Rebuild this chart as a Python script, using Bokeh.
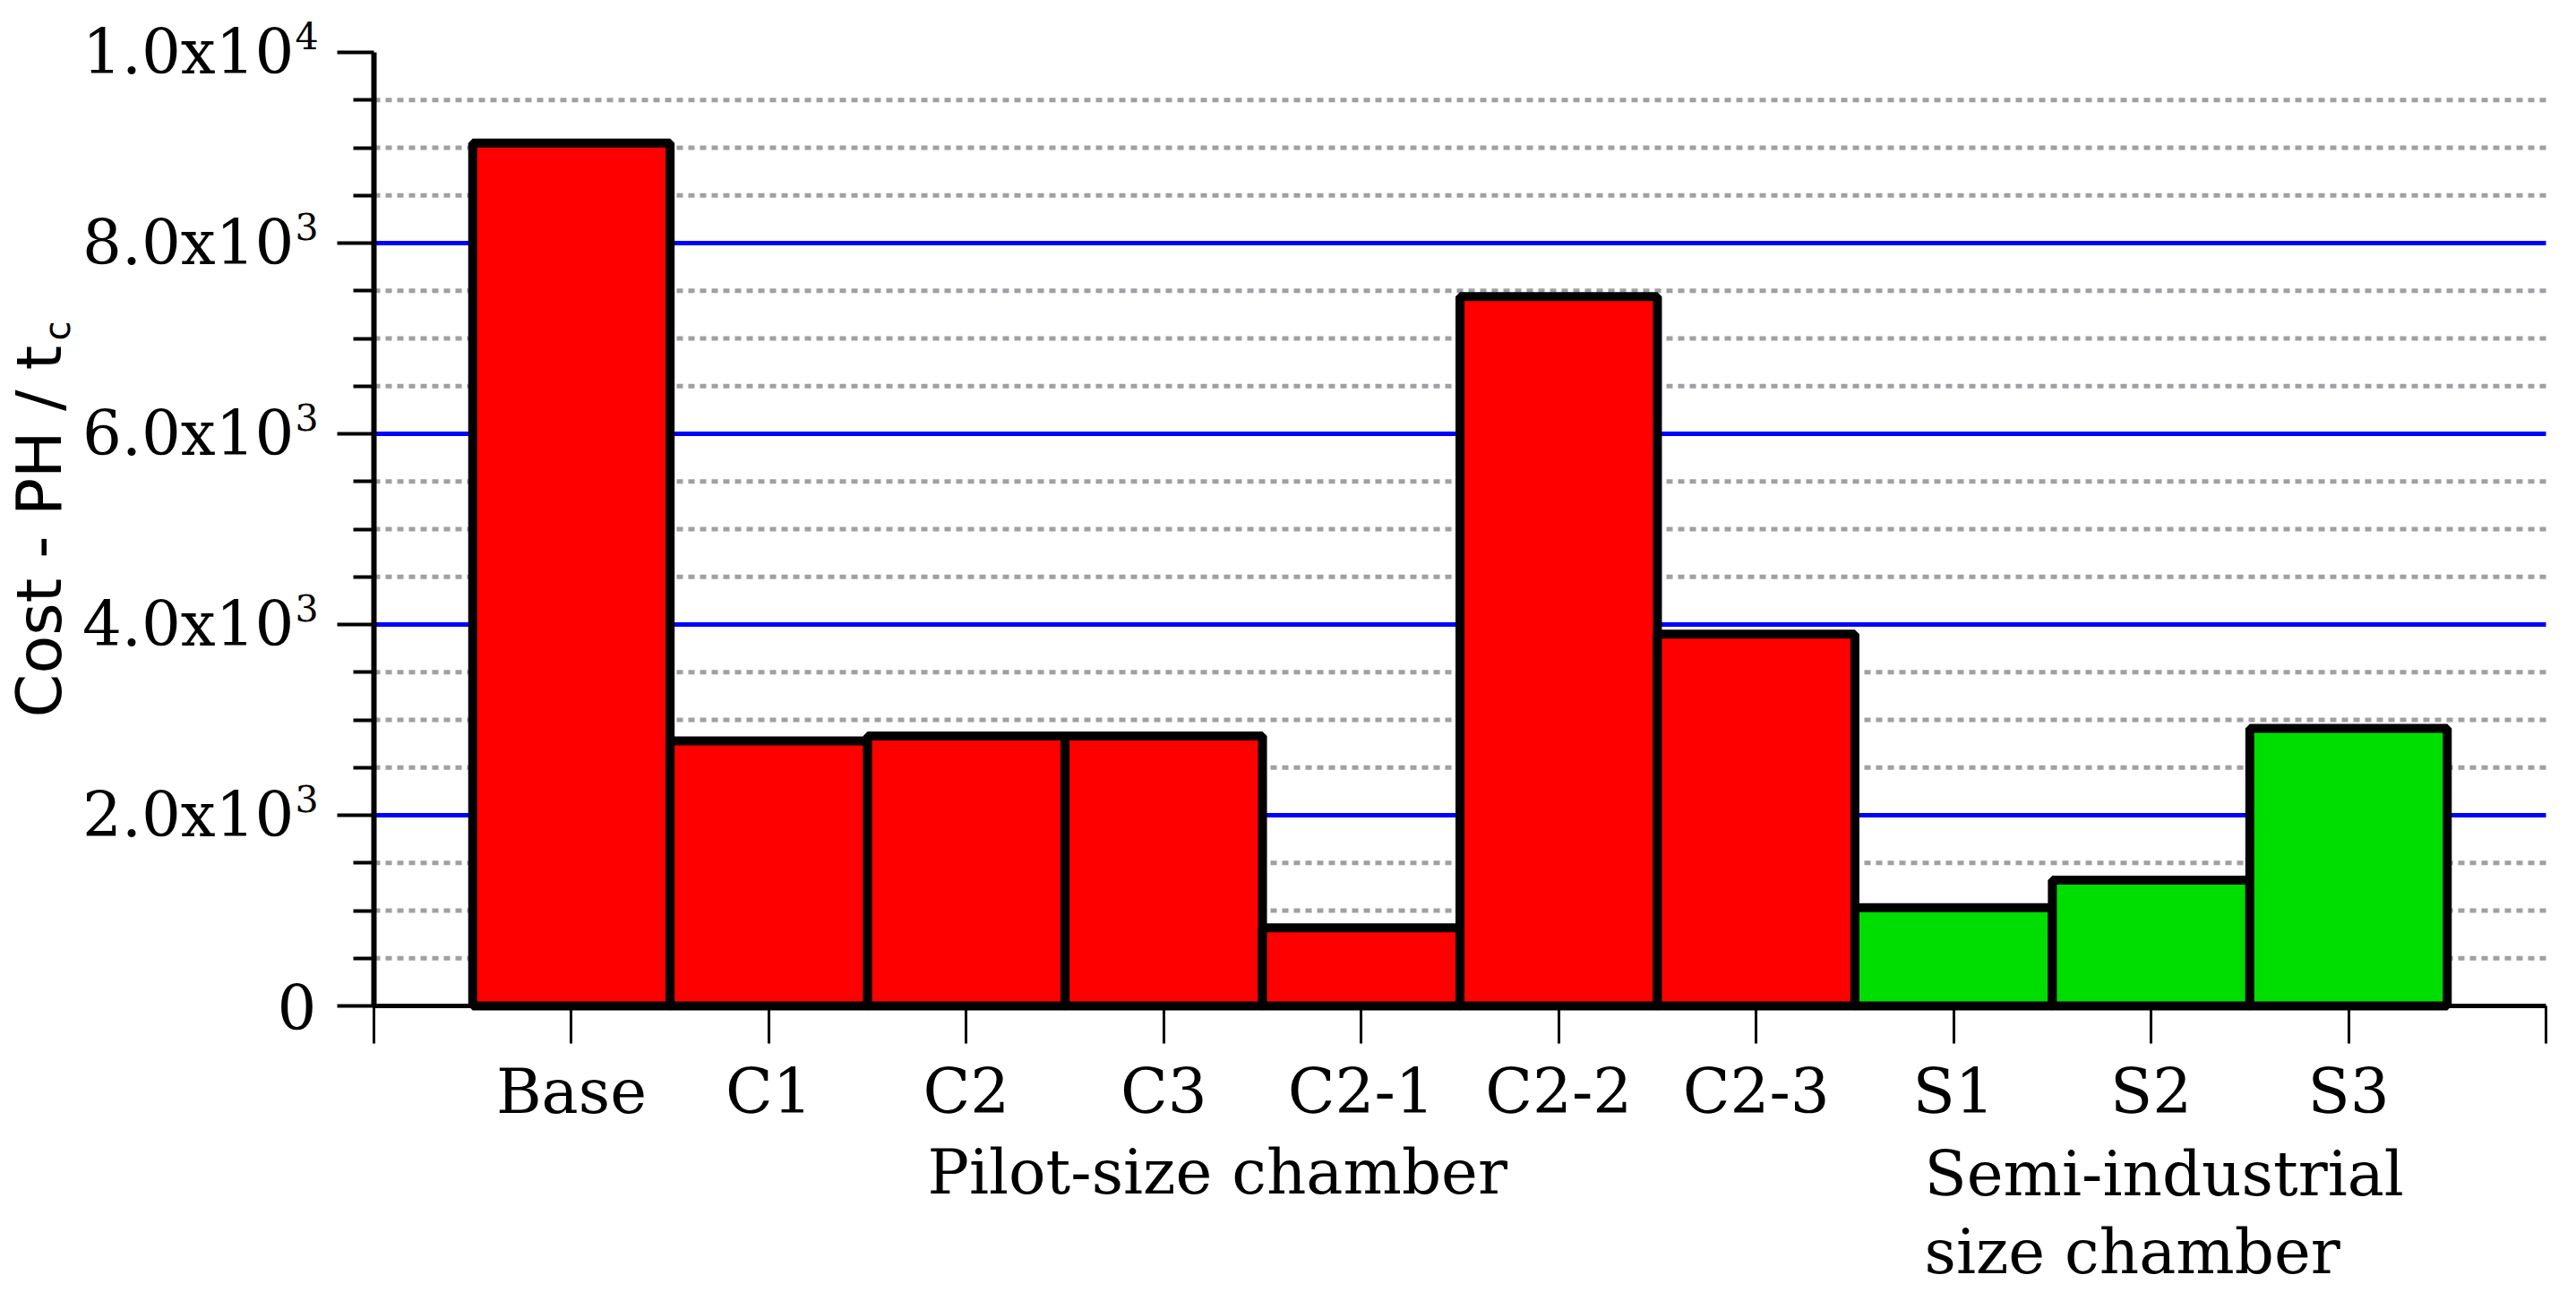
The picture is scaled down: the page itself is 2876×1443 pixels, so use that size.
import math
from bokeh.plotting import figure
from bokeh.models import FixedTicker, Label, ColumnDataSource, Range1d
from bokeh.embed import file_html
from bokeh.resources import INLINE

# ---- data ----
categories = ["Base", "C1", "C2", "C3", "C2-1", "C2-2", "C2-3", "S1", "S2", "S3"]
cost = [9050, 2780, 2830, 2830, 820, 7440, 3900, 1030, 1320, 2910]
chamber = ["pilot", "pilot", "pilot", "pilot", "pilot", "pilot", "pilot", "semi", "semi", "semi"]
chamber_colors = {"pilot": "#FF0000", "semi": "#00DD00"}

y_tick_values = [0, 2000, 4000, 6000, 8000, 10000]
y_tick_mantissa = ["0", "2.0x10", "4.0x10", "6.0x10", "8.0x10", "1.0x10"]
y_tick_exponent = ["", "3", "3", "3", "3", "4"]
y_minor_values = [500, 1000, 1500, 2500, 3000, 3500, 4500, 5000, 5500,
                  6500, 7000, 7500, 8500, 9000, 9500]
y_grid_values = [2000, 4000, 6000, 8000]
y_max = 10000
y_title = "Cost - PH / t"
y_title_sub = "c"
group_titles = ["Pilot-size chamber", "Semi-industrial", "size chamber"]

SERIF = "DejaVu Serif"
SANS = "DejaVu Sans"
FS = "69px"

# ---- layout (pixels) ----
CANVAS_W, CANVAS_H = 2870, 1440
AX_L, AX_W = 417, 2425      # canvas x of data x=0, width of the axis span
AX_T, AX_H = 58, 1065       # canvas y of y_max, height of the axis span
n_slots = len(categories) + 1
ppx = AX_W / n_slots
ppy = AX_H / y_max
x_range = Range1d(-AX_L / ppx, n_slots + (CANVAS_W - AX_L - AX_W) / ppx)
y_range = Range1d(-(CANVAS_H - AX_T - AX_H) / ppy, y_max + AX_T / ppy)

xs = list(range(1, len(categories) + 1))
src = ColumnDataSource(dict(x=xs, top=cost, name=categories,
                            color=[chamber_colors[c] for c in chamber]))

p = figure(frame_width=CANVAS_W, frame_height=CANVAS_H, min_border=0,
           x_range=x_range, y_range=y_range,
           output_backend="svg", toolbar_location=None, tools="")
p.outline_line_color = None
p.background_fill_color = "white"
p.border_fill_color = "white"
p.xgrid.visible = False
p.ygrid.visible = False

# grid lines, limited to the axis span
p.segment(x0=[0] * len(y_minor_values), x1=[n_slots] * len(y_minor_values),
          y0=y_minor_values, y1=y_minor_values,
          line_color="#A0A0A4", line_width=5, line_dash="7 6")
p.segment(x0=[0] * len(y_grid_values), x1=[n_slots] * len(y_grid_values),
          y0=y_grid_values, y1=y_grid_values,
          line_color="#0000FF", line_width=5)

# bars
p.vbar(x="x", top="top", width=1.0, bottom=0, source=src,
       fill_color="color", line_color="black", line_width=10, line_join="bevel")

# y axis
ya = p.yaxis[0]
ya.fixed_location = 0
ya.bounds = (0, y_max)
ya.ticker = FixedTicker(ticks=y_tick_values, minor_ticks=y_minor_values)
ya.major_label_overrides = {v: "" for v in y_tick_values}
ya.axis_line_width = 6
ya.axis_line_color = "black"
ya.major_tick_out = 41
ya.major_tick_in = 0
ya.minor_tick_out = 23
ya.minor_tick_in = 0
ya.major_tick_line_width = 4
ya.minor_tick_line_width = 4
ya.axis_label = None

# y tick labels with real superscripts
for v, m, e in zip(y_tick_values, y_tick_mantissa, y_tick_exponent):
    if e:
        p.add_layout(Label(x=0, y=v, x_offset=-89, y_offset=1, text=m,
                           text_font=SERIF, text_font_size=FS, text_align="right",
                           text_baseline="middle", text_color="black"))
        p.add_layout(Label(x=0, y=v, x_offset=-62, y_offset=19, text=e,
                           text_font=SERIF, text_font_size="41px", text_align="right",
                           text_baseline="middle", text_color="black"))
    else:
        p.add_layout(Label(x=0, y=v, x_offset=-64, y_offset=-1, text=m,
                           text_font=SERIF, text_font_size=FS, text_align="right",
                           text_baseline="middle", text_color="black"))

# x axis
xa = p.xaxis[0]
xa.fixed_location = 0
xa.bounds = (0, n_slots)
x_ticks = list(range(0, n_slots + 1))
xa.ticker = FixedTicker(ticks=x_ticks, minor_ticks=[])
overrides = {t: "" for t in x_ticks}
for xv, name in zip(xs, categories):
    overrides[xv] = name
xa.major_label_overrides = overrides
xa.major_label_text_font = SERIF
xa.major_label_text_font_size = FS
xa.major_label_text_color = "black"
xa.major_label_standoff = 13
xa.axis_line_width = 5
xa.axis_line_color = "black"
xa.major_tick_out = 42
xa.major_tick_in = 0
xa.major_tick_line_width = 3
xa.minor_tick_line_color = None
xa.axis_label = None

# y title (with subscript)
p.add_layout(Label(x=0, y=0, x_offset=-374, y_offset=322, text=y_title,
                   angle=math.pi / 2, text_font=SANS, text_font_size="70px",
                   text_align="left", text_baseline="middle", text_color="black"))
p.add_layout(Label(x=0, y=0, x_offset=-354, y_offset=743, text=y_title_sub,
                   angle=math.pi / 2, text_font=SANS, text_font_size="40px",
                   text_align="left", text_baseline="middle", text_color="black"))

# group titles
p.add_layout(Label(x=0, y=0, x_offset=618, y_offset=-185, text=group_titles[0],
                   text_font=SERIF, text_font_size=FS, text_align="left",
                   text_baseline="middle", text_color="black"))
p.add_layout(Label(x=0, y=0, x_offset=1731, y_offset=-187, text=group_titles[1],
                   text_font=SERIF, text_font_size=FS, text_align="left",
                   text_baseline="middle", text_color="black"))
p.add_layout(Label(x=0, y=0, x_offset=1731, y_offset=-274, text=group_titles[2],
                   text_font=SERIF, text_font_size=FS, text_align="left",
                   text_baseline="middle", text_color="black"))

open("out.html", "w").write(file_html(p, INLINE))
